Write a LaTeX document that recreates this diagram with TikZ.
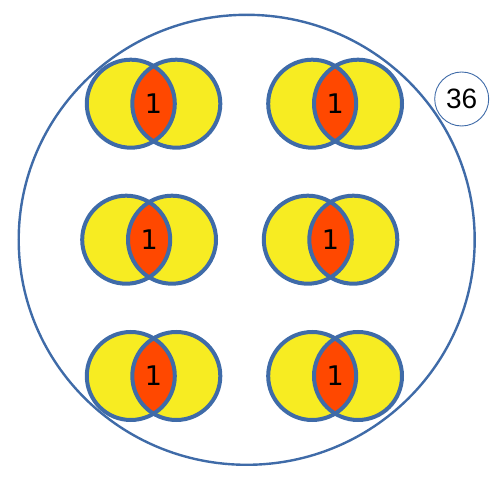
\documentclass[tikz,border=0pt]{standalone}
\usepackage{fontspec}
\setmainfont{Liberation Sans}
\newfontfamily\onefont{DejaVu Sans}
\definecolor{vyellow}{RGB}{247,236,34}
\definecolor{vorange}{RGB}{255,72,0}
\definecolor{vblue}{RGB}{63,107,168}
\tikzset{
  vennline/.style={draw=vblue, line width=4pt},
  onelabel/.style={font=\onefont\fontsize{27}{29}\selectfont, text=black, inner sep=0pt},
  numlabel/.style={font=\fontsize{28}{30}\selectfont, text=black, inner sep=0pt},
}
\newcommand{\vennpair}[4]{% #1 xl, #2 xr, #3 y, #4 name
  \fill[vyellow] (#1,#3) circle[radius=44];
  \fill[vyellow] (#2,#3) circle[radius=44];
  \begin{scope}
    \clip (#1,#3) circle[radius=44];
    \fill[vorange] (#2,#3) circle[radius=44];
  \end{scope}
  \draw[vennline] (#1,#3) circle[radius=44];
  \draw[vennline] (#2,#3) circle[radius=44];
  \node[onelabel] (#4) at ({(#1+#2)/2},#3) {1};
}
\begin{document}
\begin{tikzpicture}[x=1pt,y=-1pt]
\useasboundingbox (0,0) rectangle (499,481);
\draw[vblue, line width=2.4pt] (246.7,239.8) ellipse[x radius=228, y radius=225];
\vennpair{130.8}{176.3}{103.7}{l1}
\vennpair{312.2}{358}{103.7}{l2}
\vennpair{126.2}{172}{239.7}{l3}
\vennpair{307.8}{353.3}{239.7}{l4}
\vennpair{130.8}{176.3}{376}{l5}
\vennpair{312.2}{358}{376}{l6}
\node[numlabel, circle, draw=vblue, line width=0.9pt, fill=white, minimum size=54pt] (n36) at (461.7,99) {36};
\end{tikzpicture}
\end{document}
